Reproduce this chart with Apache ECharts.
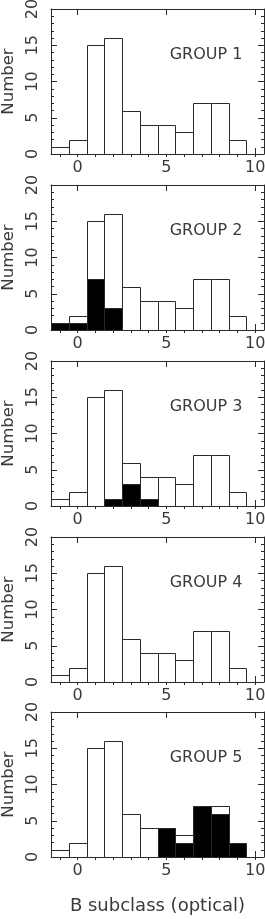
<!DOCTYPE html>
<html>
<head>
<meta charset="utf-8">
<script src="https://cdn.jsdelivr.net/npm/echarts@6/dist/echarts.min.js"></script>
<style>
html,body{margin:0;padding:0;background:#fff;}
#chart{width:265px;height:919px;}
</style>
</head>
<body>
<div id="chart"></div>
<script>
// Bin centres (B subclass)
const subclasses = [-1, 0, 1, 2, 3, 4, 5, 6, 7, 8, 9, 10];
// Total sample histogram (same in every panel)
const totalCounts = [1, 2, 15, 16, 6, 4, 4, 3, 7, 7, 2, 0];
// Group members (filled bars)
const group1 = [0, 0, 0, 0, 0, 0, 0, 0, 0, 0, 0, 0];
const group2 = [1, 1, 7, 3, 0, 0, 0, 0, 0, 0, 0, 0];
const group3 = [0, 0, 0, 1, 3, 1, 0, 0, 0, 0, 0, 0];
const group4 = [0, 0, 0, 0, 0, 0, 0, 0, 0, 0, 0, 0];
const group5 = [0, 0, 0, 0, 0, 0, 4, 2, 7, 6, 2, 0];
const groupNames = ['GROUP 1', 'GROUP 2', 'GROUP 3', 'GROUP 4', 'GROUP 5'];
const groups = [group1, group2, group3, group4, group5];
const xTickLabels = [0, 5, 10];
const yTickLabels = [0, 5, 10, 15, 20];
const xAxisName = 'B subclass (optical)';
const yAxisName = 'Number';

const FONT = 'DejaVu Sans';
const INK = '#2a2a2a';
const TXT = '#3a3a3a';
const gridTops = [9, 185, 361, 537, 712];
const gridH = 145;
const gridL = 51, gridW = 213;

const grids = [], xAxes = [], yAxes = [], series = [], graphics = [];

function renderBar(fill) {
  return function (params, api) {
    const x = api.value(0), y = api.value(1);
    if (!y) return null;
    const p0 = api.coord([x - 0.5, y]);
    const p1 = api.coord([x + 0.5, 0]);
    const x0 = Math.round(p0[0]) + 0.5, x1 = Math.round(p1[0]) + 0.5;
    const y0 = Math.round(p0[1]) + 0.5, y1 = Math.round(p1[1]) + 0.5;
    return {
      type: 'rect',
      shape: { x: x0, y: y0, width: x1 - x0, height: y1 - y0 },
      style: { fill: fill, stroke: INK, lineWidth: 1 }
    };
  };
}

const minorX = subclasses.slice();

groups.forEach((g, i) => {
  grids.push({ left: gridL, top: gridTops[i], width: gridW, height: gridH, containLabel: false, outerBoundsMode: 'none' });
  const xb = xAxes.length;
  const baseX = { type: 'value', gridIndex: i, min: -1.5, max: 10.5, splitLine: { show: false } };
  // bottom major (labels)
  xAxes.push(Object.assign({}, baseX, {
    position: 'bottom',
    axisLine: { show: true, onZero: false, lineStyle: { color: INK, width: 1 } },
    axisTick: { show: true, inside: true, length: 6, customValues: xTickLabels, lineStyle: { color: INK } },
    axisLabel: { show: true, customValues: xTickLabels, margin: 6, fontFamily: FONT, fontSize: 16, color: TXT },
    name: i === 4 ? xAxisName : '',
    nameLocation: 'middle', nameGap: 40,
    nameTextStyle: { fontFamily: FONT, fontSize: 18, color: TXT }
  }));
  // bottom minor
  xAxes.push(Object.assign({}, baseX, {
    position: 'bottom',
    axisLine: { show: false },
    axisTick: { show: true, inside: true, length: 3, customValues: minorX, lineStyle: { color: INK } },
    axisLabel: { show: false }
  }));
  // top major
  xAxes.push(Object.assign({}, baseX, {
    position: 'top',
    axisLine: { show: true, onZero: false, lineStyle: { color: INK, width: 1 } },
    axisTick: { show: true, inside: true, length: 6, customValues: xTickLabels, lineStyle: { color: INK } },
    axisLabel: { show: false }
  }));
  // top minor
  xAxes.push(Object.assign({}, baseX, {
    position: 'top',
    axisLine: { show: false },
    axisTick: { show: true, inside: true, length: 3, customValues: minorX, lineStyle: { color: INK } },
    axisLabel: { show: false }
  }));

  const yb = yAxes.length;
  const baseY = {
    type: 'value', gridIndex: i, min: 0, max: 20, interval: 5,
    splitLine: { show: false },
    minorTick: { show: true, splitNumber: 5, length: 3, lineStyle: { color: INK } },
    axisTick: { show: true, inside: true, length: 6, lineStyle: { color: INK } },
    axisLine: { show: true, onZero: false, lineStyle: { color: INK, width: 1 } }
  };
  yAxes.push(Object.assign({}, baseY, {
    position: 'left',
    axisLabel: { show: true, rotate: 90, margin: 10, fontFamily: FONT, fontSize: 16, color: TXT },
    name: yAxisName, nameLocation: 'middle', nameRotate: 90, nameGap: 34,
    nameTextStyle: { fontFamily: FONT, fontSize: 16.5, color: TXT }
  }));
  yAxes.push(Object.assign({}, baseY, {
    position: 'right',
    axisLabel: { show: false }
  }));

  const totalData = subclasses.map((s, k) => [s, totalCounts[k]]);
  const groupData = subclasses.map((s, k) => [s, g[k]]);
  series.push({
    type: 'custom', xAxisIndex: xb, yAxisIndex: yb,
    renderItem: renderBar('#ffffff'), data: totalData, silent: true, z: 2
  });
  series.push({
    type: 'custom', xAxisIndex: xb, yAxisIndex: yb,
    renderItem: renderBar('#000000'), data: groupData, silent: true, z: 3
  });

  graphics.push({
    type: 'text', x: 206, y: gridTops[i] + 46,
    style: { text: groupNames[i], fontFamily: FONT, fontSize: 16, fill: TXT, align: 'center', verticalAlign: 'middle' },
    z: 10
  });
});

const chart = echarts.init(document.getElementById('chart'), null, { renderer: 'canvas' });
chart.setOption({
  animation: false,
  backgroundColor: '#ffffff',
  grid: grids,
  xAxis: xAxes,
  yAxis: yAxes,
  series: series,
  graphic: graphics
});
</script>
</body>
</html>
